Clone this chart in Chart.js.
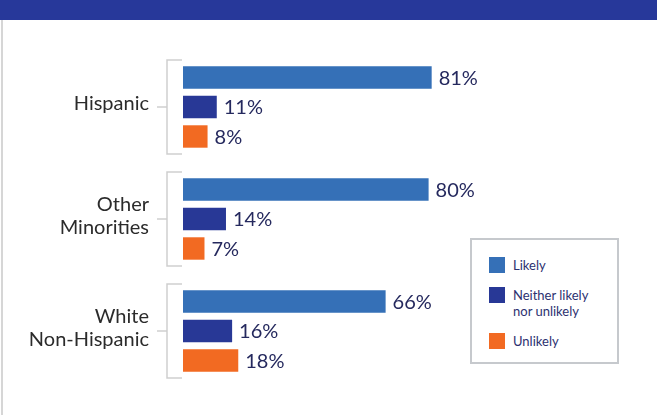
<!DOCTYPE html>
<html>
<head>
<meta charset="utf-8">
<script src="https://cdn.jsdelivr.net/npm/chart.js@4"></script>
<style>
  html, body { margin: 0; padding: 0; background: #fff; }
  #wrap { position: relative; width: 657px; height: 415px; overflow: hidden; font-family: Lato, sans-serif; }
  #banner { position: absolute; left: 0; top: 0; width: 657px; height: 20px; background: #27389a; }
  #edge { position: absolute; left: 1px; top: 20px; width: 2px; height: 395px; background: #d6d6d6; }
  #chart { position: absolute; left: 0; top: 0; }
  #legend { position: absolute; left: 470px; top: 238px; width: 149px; height: 126px; box-sizing: border-box; border: 2px solid #c6c9cd; background: #fff; }
  .sw { position: absolute; width: 16px; height: 16px; }
  .lt { position: absolute; left: 513px; font-size: 13px; line-height: 16px; color: #2c3170; }
</style>
</head>
<body>
<div id="wrap">
  <div id="banner"></div>
  <div id="edge"></div>
  <canvas id="chart" width="657" height="415"></canvas>
  <div id="legend"></div>
  <div id="legendItems"></div>
</div>
<script>
// ---- data ----
const groups = [['Hispanic'], ['Other', 'Minorities'], ['White', 'Non-Hispanic']];
const seriesNames = ['Likely', 'Neither likely nor unlikely', 'Unlikely'];
const legendLines = [['Likely'], ['Neither likely', 'nor unlikely'], ['Unlikely']];
const likely = [81, 80, 66];
const neither = [11, 14, 16];
const unlikely = [8, 7, 18];
const colors = ['#3570b7', '#283896', '#f26a22'];

// group labels + brackets to the left of each group
const bracketPlugin = {
  id: 'brackets',
  afterDraw(chart) {
    const { ctx, scales: { y } } = chart;
    const step = y.getPixelForValue(1) - y.getPixelForValue(0);
    const half = step * 0.42;
    const xLine = 167;
    ctx.save();
    ctx.strokeStyle = '#cfcfcf';
    ctx.lineWidth = 1.5;
    ctx.font = '20px Lato, sans-serif';
    ctx.fillStyle = '#2b2b2b';
    ctx.textAlign = 'right';
    ctx.textBaseline = 'middle';
    groups.forEach((g, i) => {
      const cy = y.getPixelForValue(i);
      ctx.beginPath();
      ctx.moveTo(182, cy - half);
      ctx.lineTo(xLine, cy - half);
      ctx.lineTo(xLine, cy + half);
      ctx.lineTo(182, cy + half);
      ctx.moveTo(157, cy);
      ctx.lineTo(xLine, cy);
      ctx.stroke();
      const lh = 23;
      const y0 = cy - 3 - (g.length - 1) * lh / 2;
      g.forEach((line, k) => ctx.fillText(line, 149, y0 + k * lh));
    });
    ctx.restore();
  }
};

// value labels at bar ends
const valuePlugin = {
  id: 'values',
  afterDatasetsDraw(chart) {
    const { ctx } = chart;
    ctx.save();
    ctx.font = '20px Lato, sans-serif';
    ctx.fillStyle = '#25295e';
    ctx.textAlign = 'left';
    ctx.textBaseline = 'middle';
    chart.data.datasets.forEach((ds, di) => {
      chart.getDatasetMeta(di).data.forEach((bar, i) => {
        ctx.fillText(ds.data[i] + '%', bar.x + 7, bar.y + 1);
      });
    });
    ctx.restore();
  }
};

new Chart(document.getElementById('chart'), {
  type: 'bar',
  data: {
    labels: groups.map(g => g.join(' ')),
    datasets: [likely, neither, unlikely].map((d, i) => ({
      label: seriesNames[i],
      data: d,
      backgroundColor: colors[i],
      borderWidth: 0,
      categoryPercentage: 0.79,
      barPercentage: 0.76
    }))
  },
  options: {
    indexAxis: 'y',
    responsive: false,
    animation: false,
    layout: { padding: { top: 51, bottom: 28, left: 0, right: 167 } },
    plugins: { legend: { display: false }, tooltip: { enabled: false } },
    scales: {
      x: { display: false, min: 0, max: 100 },
      y: {
        grid: { display: false, drawTicks: false },
        border: { display: false },
        ticks: { display: false },
        afterFit(scale) { scale.width = 183; }
      }
    }
  },
  plugins: [bracketPlugin, valuePlugin]
});

// legend box
const swTops = [257, 287, 333];
const items = document.getElementById('legendItems');
legendLines.forEach((lines, i) => {
  const sw = document.createElement('div');
  sw.className = 'sw';
  sw.style.left = '489px';
  sw.style.top = swTops[i] + 'px';
  sw.style.background = colors[i];
  items.appendChild(sw);
  const t = document.createElement('div');
  t.className = 'lt';
  t.style.top = swTops[i] + 'px';
  t.innerHTML = lines.join('<br>');
  items.appendChild(t);
});
</script>
</body>
</html>
